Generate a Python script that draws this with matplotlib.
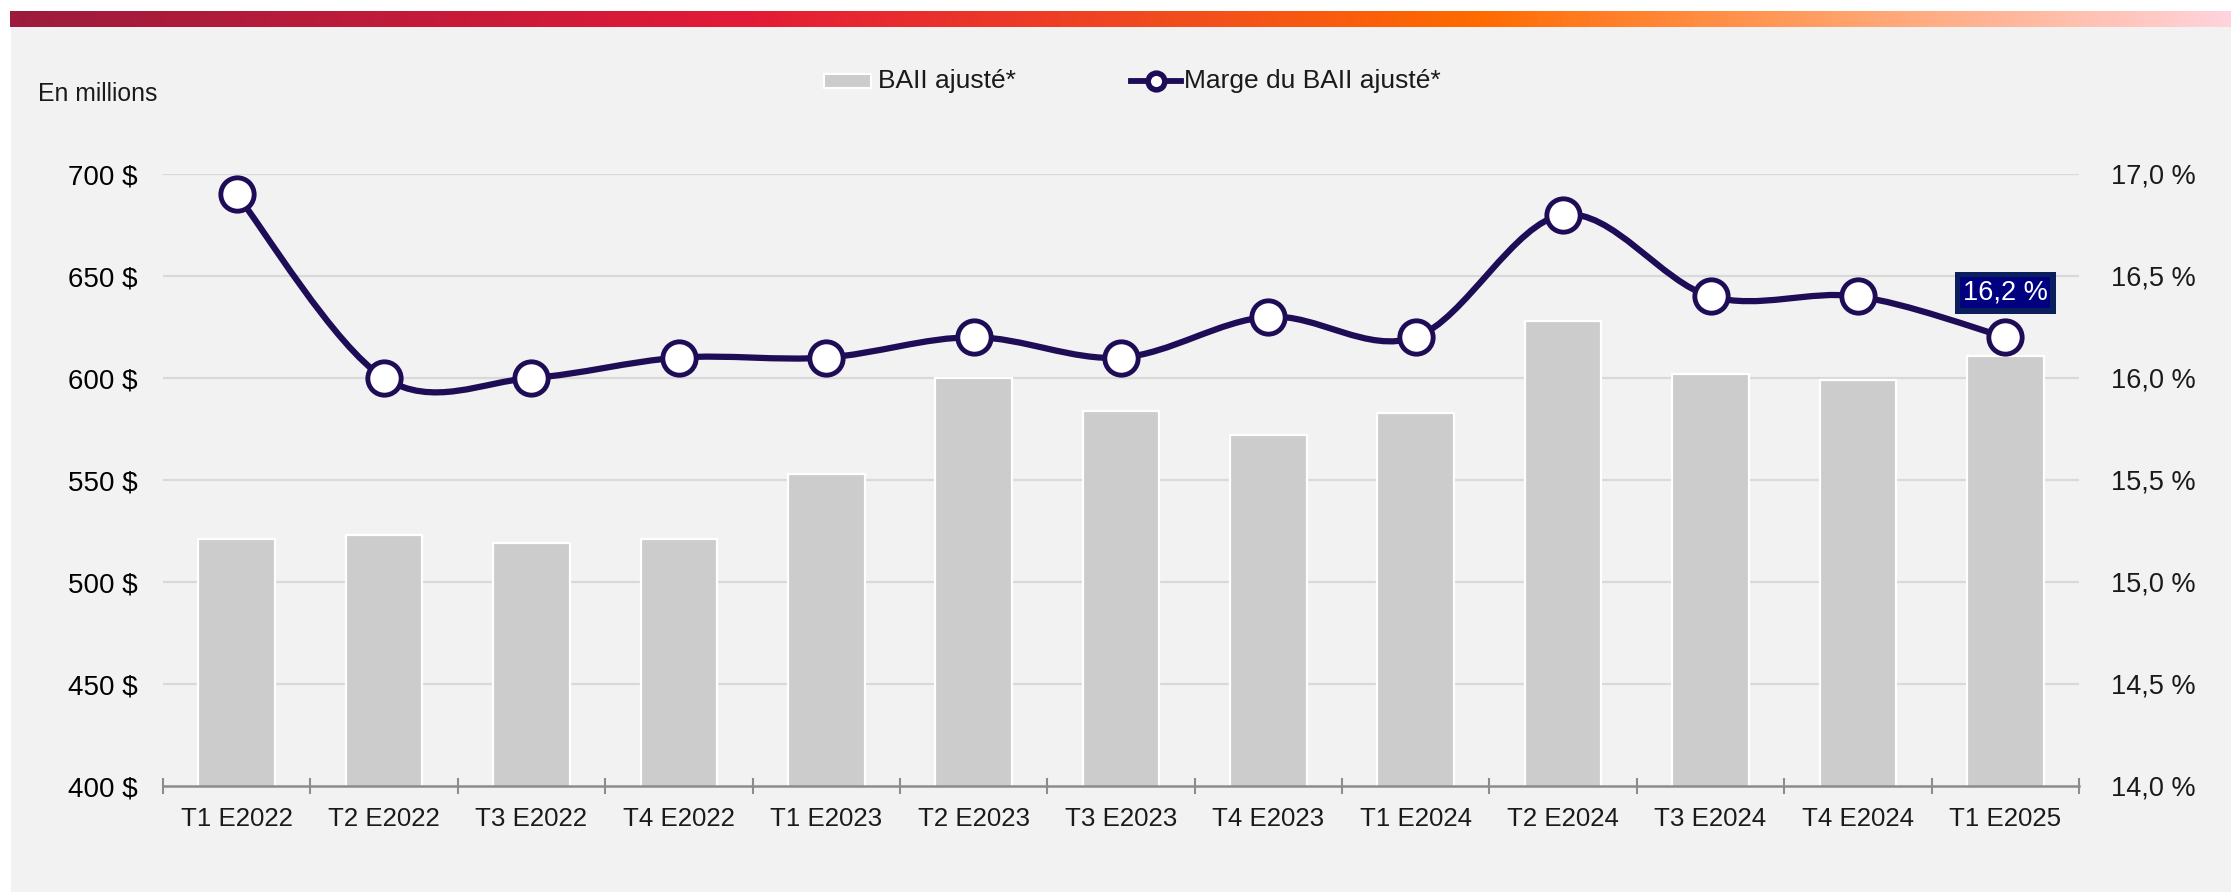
import numpy as np
import matplotlib
matplotlib.use("Agg")
import matplotlib.pyplot as plt
from matplotlib.path import Path
from matplotlib.patches import PathPatch, Rectangle
from matplotlib.lines import Line2D
from matplotlib.colors import LinearSegmentedColormap

plt.rcParams['font.family'] = ['Liberation Sans', 'DejaVu Sans']

# ---------------- data ----------------
quarters = ["T1 E2022", "T2 E2022", "T3 E2022", "T4 E2022",
            "T1 E2023", "T2 E2023", "T3 E2023", "T4 E2023",
            "T1 E2024", "T2 E2024", "T3 E2024", "T4 E2024", "T1 E2025"]
ebit_adj = [521, 523, 519, 521, 553, 600, 584, 572, 583, 628, 602, 599, 611]
ebit_margin = [16.9, 16.0, 16.0, 16.1, 16.1, 16.2, 16.1, 16.3, 16.2, 16.8, 16.4, 16.4, 16.2]
left_ticks = [400, 450, 500, 550, 600, 650, 700]
right_ticks = [14.0, 14.5, 15.0, 15.5, 16.0, 16.5, 17.0]
bar_label = "BAII ajusté*"
line_label = "Marge du BAII ajusté*"
unit_label = "En millions"

# ---------------- style ----------------
W, H = 2231, 892
BG = '#f2f2f2'
BAR = '#cccccc'
GRID = '#d9d9d9'
AXIS = '#8c8c8c'
LINE = '#1f0c57'
TXT = '#1a1a1a'

fig = plt.figure(figsize=(W / 100, H / 100), dpi=100)
fig.patch.set_facecolor('white')

# gray panel
fig.add_artist(Rectangle((11 / W, 0), 1 - 11 / W, (H - 27) / H,
                         transform=fig.transFigure, facecolor=BG,
                         edgecolor='none', zorder=-10))
# gradient strip
gax = fig.add_axes([10 / W, (H - 27) / H, 1 - 10 / W, 16 / H])
cmap = LinearSegmentedColormap.from_list('brand', [
    (0.0, '#9c1c3d'), (0.33, '#e31a37'), (0.52, '#f14c1f'),
    (0.66, '#ff6a00'), (0.82, '#ffa066'), (1.0, '#ffd3db')])
gax.imshow(np.linspace(0, 1, 512)[None, :], aspect='auto', cmap=cmap,
           extent=[0, 1, 0, 1])
gax.set_axis_off()

# main axes
left, right = 163 / W, 2079 / W
bottom, top = (H - 786) / H, (H - 174) / H
ax = fig.add_axes([left, bottom, right - left, top - bottom])
ax.set_facecolor('none')
x = np.arange(len(quarters))

ax.set_xlim(-0.5, len(quarters) - 0.5)
ax.set_ylim(400, 700)
for yv in left_ticks[1:]:
    ax.axhline(yv, color=GRID, lw=1.6, zorder=0)
ax.bar(x, ebit_adj, width=0.52, color=BAR, edgecolor='white', linewidth=1.6,
       zorder=2)

for s in ['top', 'right', 'left']:
    ax.spines[s].set_visible(False)
ax.spines['bottom'].set_color(AXIS)
ax.spines['bottom'].set_linewidth(1.8)
ax.spines['bottom'].set_zorder(3)

ax.set_xticks(np.arange(-0.5, len(quarters), 1.0))
ax.set_xticklabels([])
ax.tick_params(axis='x', which='major', direction='inout', length=12,
               width=1.5, color=AXIS)
ax.set_xticks(x, minor=True)
ax.set_xticklabels(quarters, minor=True)
ax.tick_params(axis='x', which='minor', length=0, pad=15, labelsize=18.6,
               labelcolor=TXT)

ax.set_yticks(left_ticks)
ax.set_yticklabels([f"{v} $" for v in left_ticks])
ax.tick_params(axis='y', length=0, pad=18, labelsize=20, labelcolor='#000000')

# secondary axis
ax2 = ax.twinx()
ax2.set_ylim(14.0, 17.0)
ax2.set_xlim(ax.get_xlim())
for s in ['top', 'right', 'left', 'bottom']:
    ax2.spines[s].set_visible(False)
ax2.set_yticks(right_ticks)
ax2.set_yticklabels([f"{v:.1f} %".replace('.', ',') for v in right_ticks])
ax2.tick_params(axis='y', length=0, pad=23, labelsize=19.5, labelcolor=TXT)

# smoothed line (Catmull-Rom style Bezier, as in spreadsheet smoothing)
pts = np.column_stack([x, ebit_margin]).astype(float)
n = len(pts)
verts = [tuple(pts[0])]
codes = [Path.MOVETO]
for i in range(n - 1):
    p0 = pts[max(i - 1, 0)]
    p1 = pts[i]
    p2 = pts[i + 1]
    p3 = pts[min(i + 2, n - 1)]
    c1 = p1 + (p2 - p0) / 6.0
    c2 = p2 - (p3 - p1) / 6.0
    verts += [tuple(c1), tuple(c2), tuple(p2)]
    codes += [Path.CURVE4] * 3
ax2.add_patch(PathPatch(Path(verts, codes), facecolor='none', edgecolor=LINE,
                        lw=4.5, capstyle='round', joinstyle='round',
                        zorder=4, clip_on=False))
ax2.plot(x, ebit_margin, linestyle='none', marker='o', markersize=24,
         markerfacecolor='white', markeredgecolor=LINE, markeredgewidth=3.5,
         zorder=5, clip_on=False)

# last value label (outer border box + inner navy box)
last = ebit_margin[-1]
lbl = f"{last:.1f} %".replace('.', ',')
ax2.annotate(lbl, xy=(x[-1], last), xytext=(0, 32),
             textcoords='offset points', ha='center', va='center',
             color='#0b1f5c', fontsize=19.5, zorder=6,
             bbox=dict(boxstyle='square,pad=0.3', facecolor='#0b1f5c',
                       edgecolor='none'))
ax2.annotate(lbl, xy=(x[-1], last), xytext=(0, 32),
             textcoords='offset points', ha='center', va='center',
             color='white', fontsize=19.5, zorder=7,
             bbox=dict(boxstyle='square,pad=0.1', facecolor='#000080',
                       edgecolor='none'))

# unit label
fig.text(38 / W, 1 - 94 / H, unit_label, fontsize=17.8, color=TXT,
         ha='left', va='center')

# legend (manual)
ly = 1 - 81 / H
fig.add_artist(Rectangle((824 / W, ly - 7 / H), 47 / W, 14 / H,
                         transform=fig.transFigure, facecolor=BAR,
                         edgecolor='white', linewidth=1.5))
fig.text(878 / W, ly, bar_label, fontsize=19, color=TXT, ha='left',
         va='center')
fig.add_artist(Line2D([1131 / W, 1181 / W], [ly, ly],
                      transform=fig.transFigure, color=LINE, lw=4.2))
fig.add_artist(Line2D([1156 / W], [ly], transform=fig.transFigure,
                      linestyle='none', marker='o', markersize=12,
                      markerfacecolor='white', markeredgecolor=LINE,
                      markeredgewidth=4))
fig.text(1184 / W, ly, line_label, fontsize=19, color=TXT, ha='left',
         va='center')

fig.savefig('out.png', dpi=100)
